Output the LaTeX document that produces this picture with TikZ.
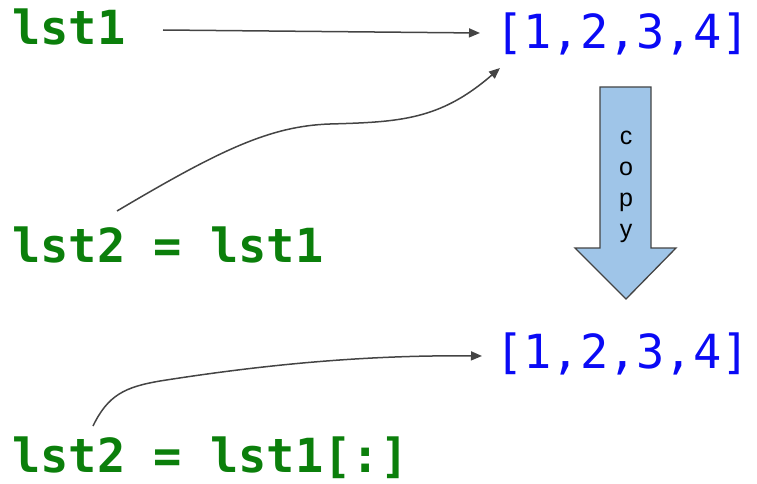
\documentclass[tikz,border=0pt]{standalone}
\usepackage{fontspec}
\usetikzlibrary{arrows.meta}
\newfontfamily\codefont{DejaVu Sans Mono}
\newfontfamily\labelfont{Liberation Sans}
\definecolor{codegreen}{HTML}{0B7F0B}
\definecolor{codeblue}{HTML}{0A0AF5}
\definecolor{linegray}{HTML}{444444}
\definecolor{arrowfill}{HTML}{9FC5E8}
\begin{document}
\begin{tikzpicture}[x=1pt,y=-1pt,
  greentext/.style={inner sep=0pt,anchor=base west,text=codegreen,font=\codefont\bfseries\fontsize{47}{50}\selectfont},
  bluetext/.style={inner sep=0pt,anchor=base west,text=codeblue,font=\codefont\fontsize{47}{50}\selectfont},
  conn/.style={draw=linegray,line width=1.5pt,-{Triangle[length=11pt,width=9pt]}},
  copyarrow/.style={draw=linegray,line width=1.3pt,fill=arrowfill,line join=miter}]
\path[use as bounding box] (0,0) rectangle (757,484);
\node[greentext] (lst1) at (12,45) {lst1};
\node[greentext] (lst2a) at (12,262) {lst2 = lst1};
\node[greentext] (lst2b) at (12,472) {lst2 = lst1[:]};
\node[bluetext] (listA) at (495,49) {[1,2,3,4]};
\node[bluetext] (listB) at (495,368) {[1,2,3,4]};
\coordinate (s1) at (163,30);
\coordinate (e1) at (480,33);
\coordinate (s2) at (117,211);
\coordinate (m2) at (330,124);
\coordinate (e2) at (500,68);
\coordinate (s3) at (93,426);
\coordinate (m3) at (160,381);
\coordinate (e3) at (482,356);
\draw[conn] (s1) -- (e1);
\draw[conn] (s2) .. controls (220,150) and (270,126) .. (m2) .. controls (400,122) and (440,120) .. (e2);
\draw[conn] (s3) .. controls (108,395) and (125,387) .. (m3) .. controls (280,362) and (380,355) .. (e3);
\path[copyarrow] (600,87) -- (651,87) -- (651,248) -- (676,248) -- (626,299) -- (575,248) -- (600,248) -- cycle;
\node[inner sep=0pt,align=center,font=\labelfont\fontsize{25}{30.7}\selectfont,anchor=base] (copy) at (626,237) {c\\o\\p\\y};
\end{tikzpicture}
\end{document}
